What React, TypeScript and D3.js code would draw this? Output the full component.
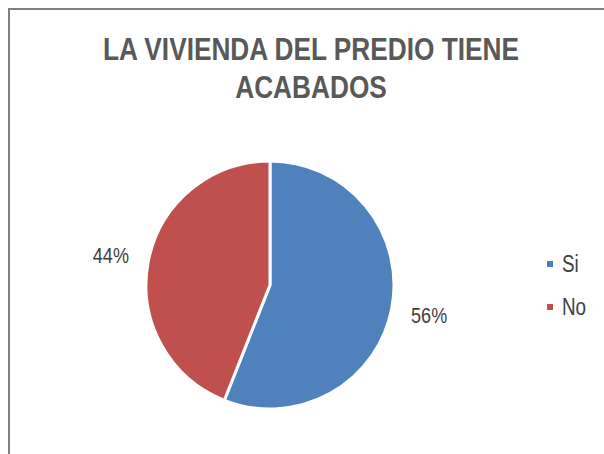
import React, { useRef, useEffect } from "react";
import * as d3 from "d3";

// chart data
const categories = ["Si", "No"];
const values = [56, 44];
const colors = ["#4F81BD", "#C0504D"];
const titleLines = ["LA VIVIENDA DEL PREDIO TIENE", "ACABADOS"];

const FONT = "'Liberation Sans Narrow', 'Arial Narrow', 'Liberation Sans', Arial, sans-serif";
// no narrow font installed -> squeeze the regular one horizontally
const NARROW = 0.82;

const App = () => {
  const ref = useRef<SVGSVGElement>(null);
  const width = 604;
  const height = 454;

  useEffect(() => {
    const svg = d3.select(ref.current);
    svg.selectAll("*").remove();

    // white background + chart frame (runs off the right/bottom edge)
    svg.append("rect").attr("width", width).attr("height", height).attr("fill", "#fff");
    svg
      .append("rect")
      .attr("x", 9)
      .attr("y", 9)
      .attr("width", width + 20)
      .attr("height", height + 20)
      .attr("fill", "none")
      .attr("stroke", "#808080")
      .attr("stroke-width", 2);

    // title
    svg
      .append("g")
      .selectAll("text")
      .data(titleLines)
      .enter()
      .append("text")
      .attr("transform", (d, i) => `translate(311,${60 + i * 38}) scale(${NARROW},1)`)
      .attr("text-anchor", "middle")
      .attr("font-family", FONT)
      .attr("font-weight", "bold")
      .attr("font-size", 32)
      .attr("fill", "#595959")
      .text((d) => d);

    // pie
    const cx = 270;
    const cy = 285;
    const radius = 124;
    const data = categories.map((c, i) => ({ cat: c, value: values[i], color: colors[i] }));
    const pie = d3
      .pie<any>()
      .sort(null)
      .value((d) => d.value);
    const arcs = pie(data);
    const arc = d3.arc<any>().innerRadius(0).outerRadius(radius);
    const labelArc = d3.arc<any>().innerRadius(162).outerRadius(162);

    const g = svg.append("g").attr("transform", `translate(${cx},${cy})`);
    g.selectAll("path")
      .data(arcs)
      .enter()
      .append("path")
      .attr("d", arc)
      .attr("fill", (d) => d.data.color)
      .attr("stroke", "#fff")
      .attr("stroke-width", 3)
      .attr("stroke-linejoin", "round");

    const total = d3.sum(values);
    g.selectAll(".lbl")
      .data(arcs)
      .enter()
      .append("text")
      .attr("class", "lbl")
      .attr(
        "transform",
        (d) =>
          `translate(${labelArc.centroid(d)[0]},${labelArc.centroid(d)[1] + 8}) scale(${NARROW},1)`
      )
      .attr("text-anchor", "middle")
      .attr("font-family", FONT)
      .attr("font-size", 22)
      .attr("fill", "#404040")
      .text((d) => Math.round((d.data.value / total) * 100) + "%");

    // legend
    const legendY = d3.scalePoint().domain(categories).range([264, 307]);
    const legend = svg
      .append("g")
      .selectAll("g")
      .data(data)
      .enter()
      .append("g")
      .attr("transform", (d) => `translate(547,${legendY(d.cat)})`);
    legend
      .append("rect")
      .attr("x", 0)
      .attr("y", -3)
      .attr("width", 6)
      .attr("height", 6)
      .attr("fill", (d) => d.color);
    legend
      .append("text")
      .attr("transform", `translate(15,8) scale(${NARROW},1)`)
      .attr("font-family", FONT)
      .attr("font-size", 23)
      .attr("fill", "#404040")
      .text((d) => d.cat);
  }, []);

  return (
    <svg
      ref={ref}
      width={width}
      height={height}
      style={{ position: "absolute", left: 0, top: 0, display: "block" }}
    />
  );
};

export default App;
